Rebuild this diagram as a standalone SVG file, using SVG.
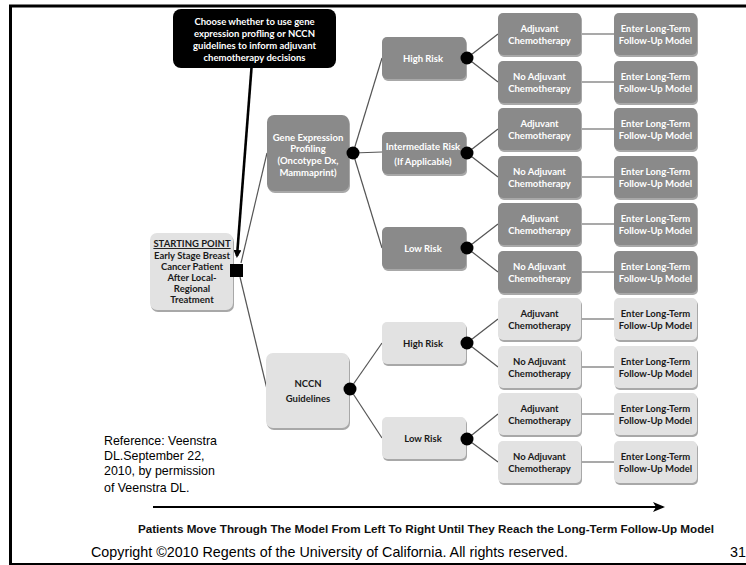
<svg xmlns="http://www.w3.org/2000/svg" width="746" height="565" viewBox="0 0 746 565">
<style>
.t{font-family:Lato,"Noto Sans","Liberation Sans",sans-serif;font-weight:bold;font-size:9.5px;text-anchor:middle}
.w{fill:#ffffff}
.k{fill:#1a1a1a}
.dk{fill:#8a8a8a}
.lt{fill:#e2e2e2}
.sh{fill:#a8a8a8}
.c{stroke:#555555;stroke-width:1.2;fill:none}
.dot{fill:#000000}
.a{font-family:"Liberation Sans",Arial,sans-serif}
</style>
<defs>
<marker id="ah" markerWidth="8" markerHeight="8" refX="6" refY="4" orient="auto" markerUnits="userSpaceOnUse" viewBox="0 0 8 8">
<path d="M0,0 L8,4 L0,8 z" fill="#000"/>
</marker>
<marker id="ah2" markerWidth="12" markerHeight="10" refX="10" refY="5" orient="auto" markerUnits="userSpaceOnUse" viewBox="0 0 12 10">
<path d="M0,0 L12,5 L0,10 L3,5 z" fill="#000"/>
</marker>
</defs>
<rect width="746" height="565" fill="#ffffff"/>
<g id="frame" stroke="#000" fill="none">
<line x1="9" y1="6" x2="746" y2="6" stroke-width="3"/>
<line x1="10.5" y1="5" x2="10.5" y2="565" stroke-width="3"/>
<line x1="9" y1="564" x2="746" y2="564" stroke-width="2"/>
</g>
<g id="connectors">
<line class="c" x1="241" y1="263" x2="267" y2="153"/>
<line class="c" x1="240" y1="277" x2="267" y2="389"/>
<line class="c" x1="353" y1="153" x2="382" y2="58"/>
<line class="c" x1="353" y1="153" x2="382" y2="152"/>
<line class="c" x1="353" y1="153" x2="382" y2="248"/>
<line class="c" x1="350" y1="389" x2="382" y2="343"/>
<line class="c" x1="350" y1="389" x2="382" y2="438"/>
<line class="c" x1="467" y1="58" x2="498" y2="34"/>
<line class="c" x1="467" y1="58" x2="498" y2="82"/>
<line class="c" x1="467" y1="153" x2="498" y2="129"/>
<line class="c" x1="467" y1="153" x2="498" y2="177"/>
<line class="c" x1="467" y1="248" x2="498" y2="224"/>
<line class="c" x1="467" y1="248" x2="498" y2="272"/>
<line class="c" x1="467" y1="343" x2="498" y2="319"/>
<line class="c" x1="467" y1="343" x2="498" y2="367"/>
<line class="c" x1="467" y1="439" x2="498" y2="414"/>
<line class="c" x1="467" y1="439" x2="498" y2="462"/>
<line class="c" x1="581" y1="34" x2="614" y2="34"/>
<line class="c" x1="581" y1="82" x2="614" y2="82"/>
<line class="c" x1="581" y1="129" x2="614" y2="129"/>
<line class="c" x1="581" y1="177" x2="614" y2="177"/>
<line class="c" x1="581" y1="224" x2="614" y2="224"/>
<line class="c" x1="581" y1="272" x2="614" y2="272"/>
<line class="c" x1="581" y1="319" x2="614" y2="319"/>
<line class="c" x1="581" y1="367" x2="614" y2="367"/>
<line class="c" x1="581" y1="414" x2="614" y2="414"/>
<line class="c" x1="581" y1="462" x2="614" y2="462"/>
<line x1="251.5" y1="68" x2="237" y2="256" stroke="#000" stroke-width="2.6" marker-end="url(#ah)"/>
<line x1="153" y1="507" x2="663" y2="507" stroke="#000" stroke-width="2" marker-end="url(#ah2)"/>
</g>
<g id="decision">
<rect x="173" y="9" width="163" height="59" rx="8" fill="#000"/>
<text class="t w" font-size="9.8" x="254.5" y="25">Choose whether to use gene</text>
<text class="t w" font-size="9.8" x="254.5" y="37">expression profling or NCCN</text>
<text class="t w" font-size="9.8" x="254.5" y="49">guidelines to inform adjuvant</text>
<text class="t w" font-size="9.8" x="254.5" y="61">chemotherapy decisions</text>
</g>
<g id="start">
<rect class="sh" x="151" y="235" width="83" height="77" rx="7"/>
<rect class="lt" x="150" y="233" width="83" height="77" rx="7"/>
<text class="t k" x="192" y="247" text-decoration="underline">STARTING POINT</text>
<text class="t k" x="192" y="258.5">Early Stage Breast</text>
<text class="t k" x="192" y="269.5">Cancer Patient</text>
<text class="t k" x="192" y="280.5">After  Local-</text>
<text class="t k" x="192" y="291.5">Regional</text>
<text class="t k" x="192" y="302.5">Treatment</text>
<rect x="230" y="264" width="13" height="13" fill="#000"/>
</g>
<g id="gene">
<rect class="sh" x="268" y="117" width="82" height="76" rx="7"/>
<rect class="dk" x="267" y="115" width="82" height="76" rx="7"/>
<text class="t w" x="308" y="140.5">Gene Expression</text>
<text class="t w" x="308" y="151.5">Profiling</text>
<text class="t w" x="308" y="163.5">(Oncotype Dx,</text>
<text class="t w" x="308" y="175.5">Mammaprint)</text>
<circle class="dot" cx="353" cy="153" r="6.5"/>
</g>
<g id="nccn">
<rect class="sh" x="267" y="355" width="83" height="75" rx="7"/>
<rect class="lt" x="266" y="353" width="83" height="75" rx="7"/>
<text class="t k" x="308" y="386.5" font-size="9">NCCN</text>
<text class="t k" x="308" y="401.5" font-size="9">Guidelines</text>
<circle class="dot" cx="350" cy="389" r="6.5"/>
</g>
<g id="gene-high">
<rect class="sh" x="383" y="39" width="84" height="42" rx="5"/>
<rect class="dk" x="382" y="37" width="84" height="42" rx="5"/>
<text class="t w" x="423" y="61.5">High Risk</text>
<circle class="dot" cx="467" cy="58" r="6.5"/>
</g>
<g id="gene-intermediate">
<rect class="sh" x="383" y="134" width="84" height="42" rx="5"/>
<rect class="dk" x="382" y="132" width="84" height="42" rx="5"/>
<text class="t w" x="423" y="149.5">Intermediate Risk</text>
<text class="t w" x="423" y="164.5">(If Applicable)</text>
<circle class="dot" cx="467" cy="153" r="6.5"/>
</g>
<g id="gene-low">
<rect class="sh" x="383" y="229" width="84" height="42" rx="5"/>
<rect class="dk" x="382" y="227" width="84" height="42" rx="5"/>
<text class="t w" x="423" y="251.5">Low Risk</text>
<circle class="dot" cx="467" cy="248" r="6.5"/>
</g>
<g id="nccn-high">
<rect class="sh" x="383" y="324" width="84" height="42" rx="5"/>
<rect class="lt" x="382" y="322" width="84" height="42" rx="5"/>
<text class="t k" x="423" y="346.5">High Risk</text>
<circle class="dot" cx="467" cy="343" r="6.5"/>
</g>
<g id="nccn-low">
<rect class="sh" x="383" y="419" width="84" height="42" rx="5"/>
<rect class="lt" x="382" y="417" width="84" height="42" rx="5"/>
<text class="t k" x="423" y="441.5">Low Risk</text>
<circle class="dot" cx="467" cy="439" r="6.5"/>
</g>
<g id="gh-adj"><rect class="sh" x="499" y="15" width="83" height="42" rx="5"/><rect class="dk" x="498" y="13" width="83" height="42" rx="5"/><text class="t w" x="539.5" y="32">Adjuvant</text><text class="t w" x="539.5" y="44">Chemotherapy</text></g>
<g id="gh-noadj"><rect class="sh" x="499" y="63" width="83" height="42" rx="5"/><rect class="dk" x="498" y="61" width="83" height="42" rx="5"/><text class="t w" x="539.5" y="80">No Adjuvant</text><text class="t w" x="539.5" y="92">Chemotherapy</text></g>
<g id="gi-adj"><rect class="sh" x="499" y="110" width="83" height="42" rx="5"/><rect class="dk" x="498" y="108" width="83" height="42" rx="5"/><text class="t w" x="539.5" y="127">Adjuvant</text><text class="t w" x="539.5" y="139">Chemotherapy</text></g>
<g id="gi-noadj"><rect class="sh" x="499" y="158" width="83" height="42" rx="5"/><rect class="dk" x="498" y="156" width="83" height="42" rx="5"/><text class="t w" x="539.5" y="175">No Adjuvant</text><text class="t w" x="539.5" y="187">Chemotherapy</text></g>
<g id="gl-adj"><rect class="sh" x="499" y="205" width="83" height="42" rx="5"/><rect class="dk" x="498" y="203" width="83" height="42" rx="5"/><text class="t w" x="539.5" y="222">Adjuvant</text><text class="t w" x="539.5" y="234">Chemotherapy</text></g>
<g id="gl-noadj"><rect class="sh" x="499" y="253" width="83" height="42" rx="5"/><rect class="dk" x="498" y="251" width="83" height="42" rx="5"/><text class="t w" x="539.5" y="270">No Adjuvant</text><text class="t w" x="539.5" y="282">Chemotherapy</text></g>
<g id="nh-adj"><rect class="sh" x="499" y="300" width="83" height="42" rx="5"/><rect class="lt" x="498" y="298" width="83" height="42" rx="5"/><text class="t k" x="539.5" y="317">Adjuvant</text><text class="t k" x="539.5" y="329">Chemotherapy</text></g>
<g id="nh-noadj"><rect class="sh" x="499" y="348" width="83" height="42" rx="5"/><rect class="lt" x="498" y="346" width="83" height="42" rx="5"/><text class="t k" x="539.5" y="365">No Adjuvant</text><text class="t k" x="539.5" y="377">Chemotherapy</text></g>
<g id="nl-adj"><rect class="sh" x="499" y="395" width="83" height="42" rx="5"/><rect class="lt" x="498" y="393" width="83" height="42" rx="5"/><text class="t k" x="539.5" y="412">Adjuvant</text><text class="t k" x="539.5" y="424">Chemotherapy</text></g>
<g id="nl-noadj"><rect class="sh" x="499" y="443" width="83" height="42" rx="5"/><rect class="lt" x="498" y="441" width="83" height="42" rx="5"/><text class="t k" x="539.5" y="460">No Adjuvant</text><text class="t k" x="539.5" y="472">Chemotherapy</text></g>
<g id="gh-adj-f"><rect class="sh" x="615" y="15" width="83" height="42" rx="5"/><rect class="dk" x="614" y="13" width="83" height="42" rx="5"/><text class="t w" x="655.5" y="32">Enter Long-Term</text><text class="t w" x="655.5" y="44">Follow-Up Model</text></g>
<g id="gh-noadj-f"><rect class="sh" x="615" y="63" width="83" height="42" rx="5"/><rect class="dk" x="614" y="61" width="83" height="42" rx="5"/><text class="t w" x="655.5" y="80">Enter Long-Term</text><text class="t w" x="655.5" y="92">Follow-Up Model</text></g>
<g id="gi-adj-f"><rect class="sh" x="615" y="110" width="83" height="42" rx="5"/><rect class="dk" x="614" y="108" width="83" height="42" rx="5"/><text class="t w" x="655.5" y="127">Enter Long-Term</text><text class="t w" x="655.5" y="139">Follow-Up Model</text></g>
<g id="gi-noadj-f"><rect class="sh" x="615" y="158" width="83" height="42" rx="5"/><rect class="dk" x="614" y="156" width="83" height="42" rx="5"/><text class="t w" x="655.5" y="175">Enter Long-Term</text><text class="t w" x="655.5" y="187">Follow-Up Model</text></g>
<g id="gl-adj-f"><rect class="sh" x="615" y="205" width="83" height="42" rx="5"/><rect class="dk" x="614" y="203" width="83" height="42" rx="5"/><text class="t w" x="655.5" y="222">Enter Long-Term</text><text class="t w" x="655.5" y="234">Follow-Up Model</text></g>
<g id="gl-noadj-f"><rect class="sh" x="615" y="253" width="83" height="42" rx="5"/><rect class="dk" x="614" y="251" width="83" height="42" rx="5"/><text class="t w" x="655.5" y="270">Enter Long-Term</text><text class="t w" x="655.5" y="282">Follow-Up Model</text></g>
<g id="nh-adj-f"><rect class="sh" x="615" y="300" width="83" height="42" rx="5"/><rect class="lt" x="614" y="298" width="83" height="42" rx="5"/><text class="t k" x="655.5" y="317">Enter Long-Term</text><text class="t k" x="655.5" y="329">Follow-Up Model</text></g>
<g id="nh-noadj-f"><rect class="sh" x="615" y="348" width="83" height="42" rx="5"/><rect class="lt" x="614" y="346" width="83" height="42" rx="5"/><text class="t k" x="655.5" y="365">Enter Long-Term</text><text class="t k" x="655.5" y="377">Follow-Up Model</text></g>
<g id="nl-adj-f"><rect class="sh" x="615" y="395" width="83" height="42" rx="5"/><rect class="lt" x="614" y="393" width="83" height="42" rx="5"/><text class="t k" x="655.5" y="412">Enter Long-Term</text><text class="t k" x="655.5" y="424">Follow-Up Model</text></g>
<g id="nl-noadj-f"><rect class="sh" x="615" y="443" width="83" height="42" rx="5"/><rect class="lt" x="614" y="441" width="83" height="42" rx="5"/><text class="t k" x="655.5" y="460">Enter Long-Term</text><text class="t k" x="655.5" y="472">Follow-Up Model</text></g>
<g id="notes" class="a" fill="#000">
<text x="104" y="444.5" font-size="12.4">Reference: Veenstra</text>
<text x="104" y="459.5" font-size="12.4">DL.September 22,</text>
<text x="104" y="474.5" font-size="12.4">2010, by permission</text>
<text x="104" y="491.5" font-size="12.4">of Veenstra DL.</text>
<text x="426" y="532.5" font-size="11.7" font-weight="bold" text-anchor="middle" fill="#111">Patients Move Through The Model From Left To Right Until They Reach the Long-Term Follow-Up Model</text>
<text x="91" y="557" font-size="14.3">Copyright ©2010 Regents of the University of California. All rights reserved.</text>
<text x="730" y="557" font-size="14.3">31</text>
</g>
</svg>
